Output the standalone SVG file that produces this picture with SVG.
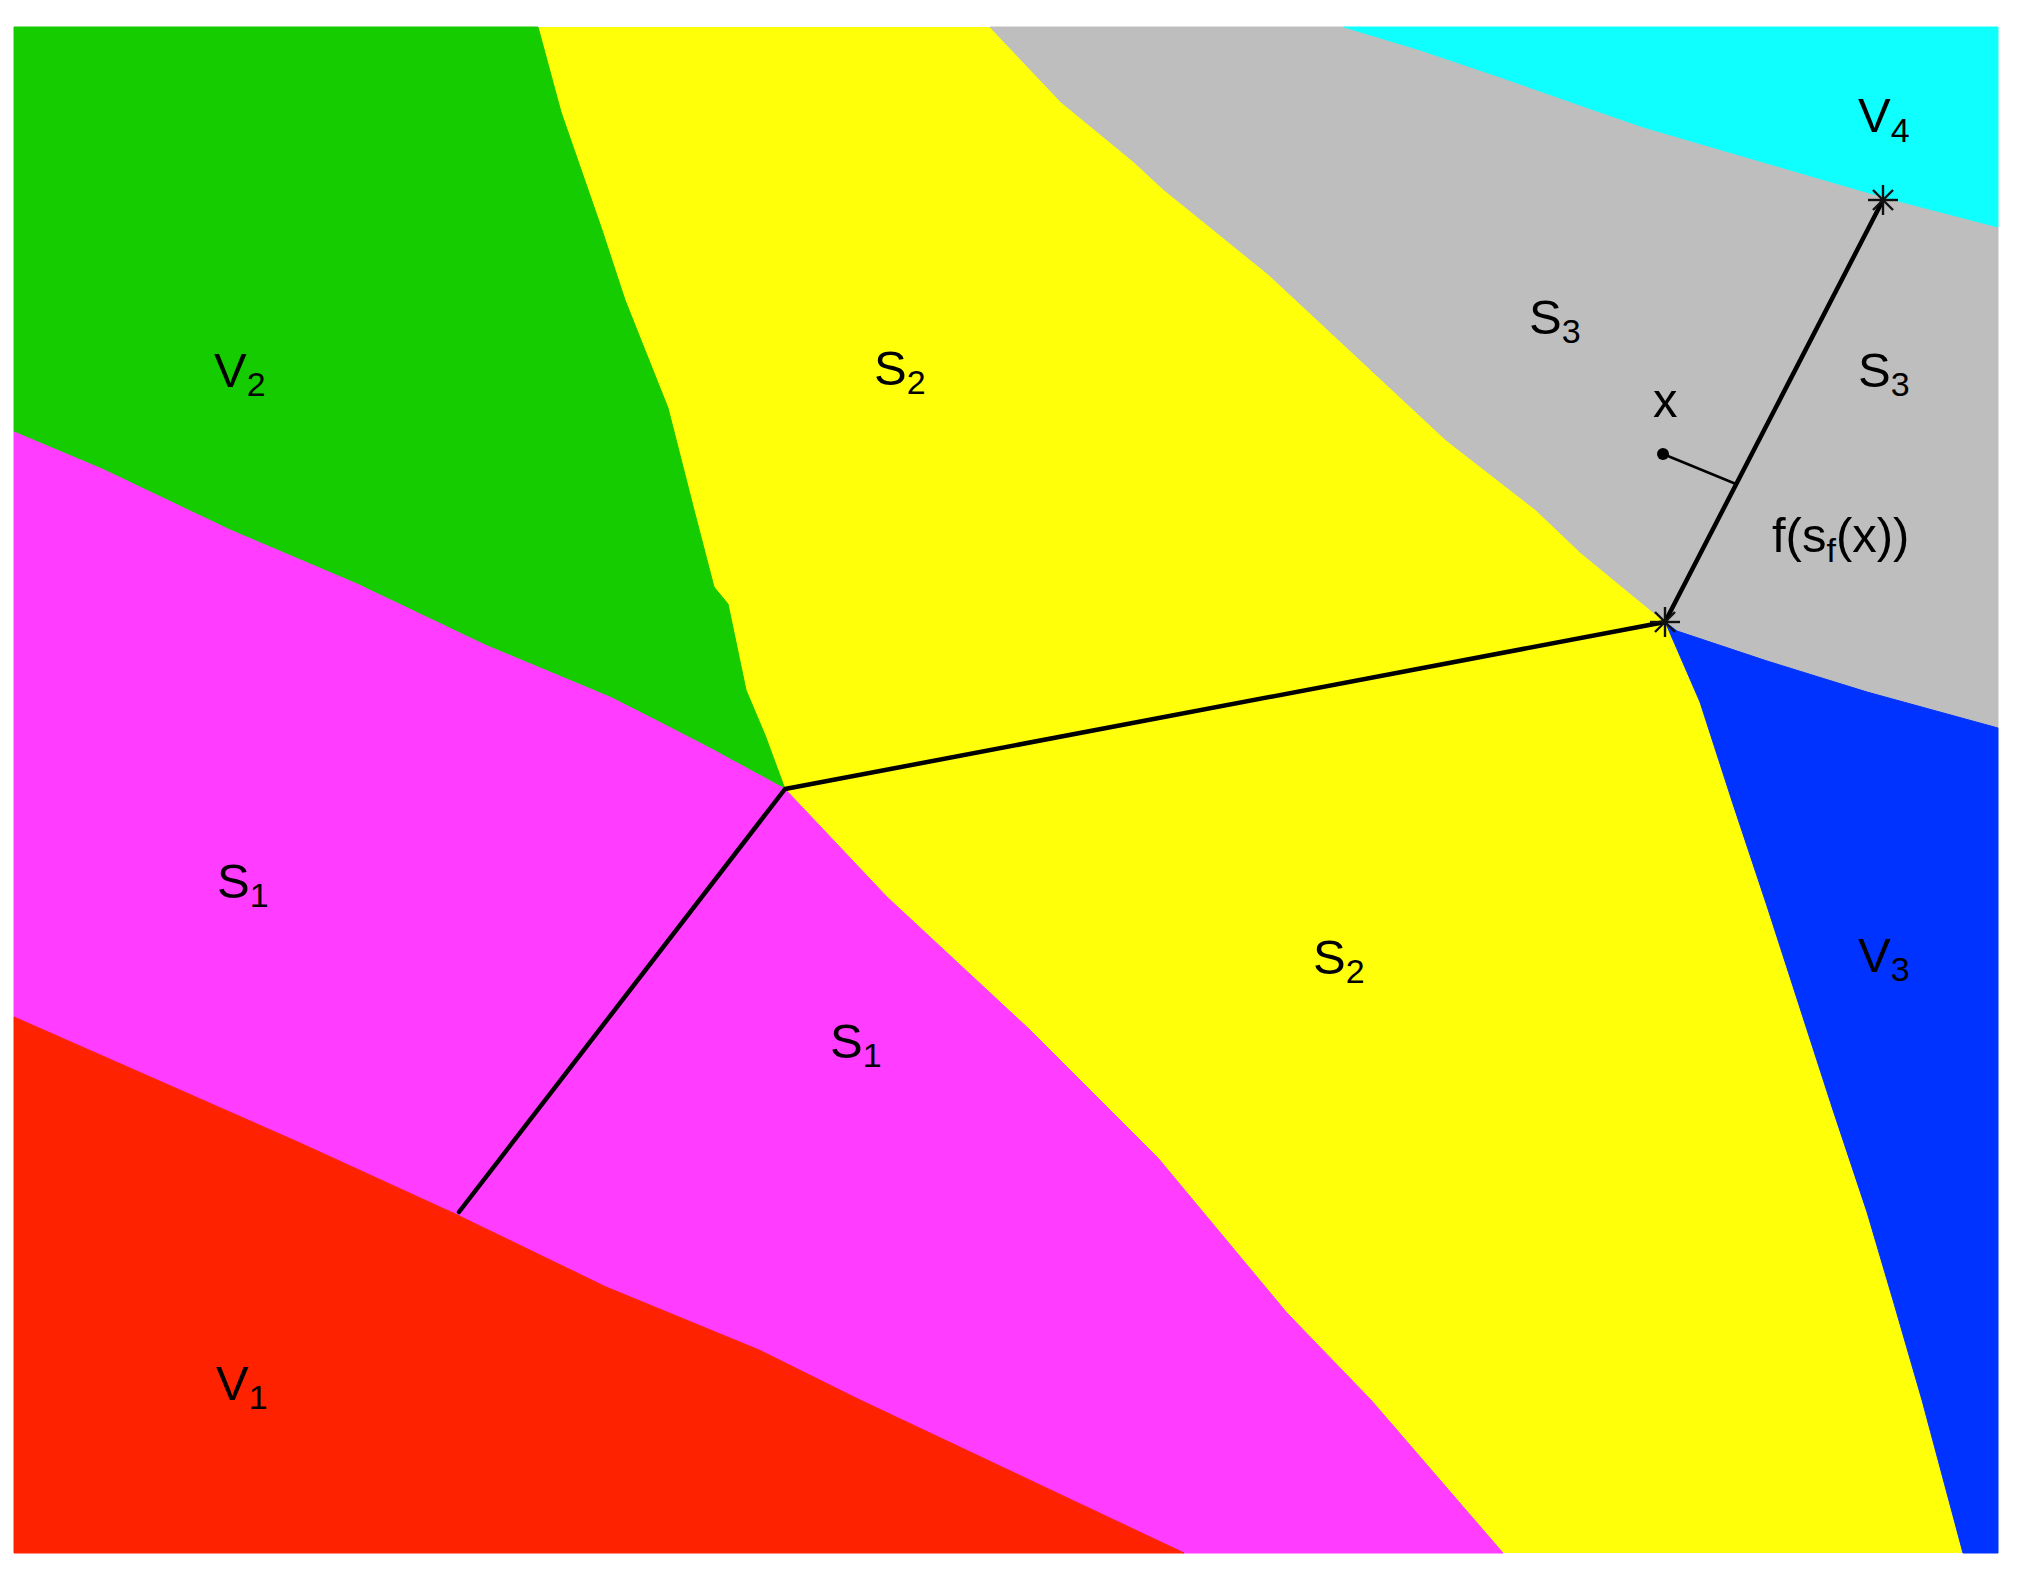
<svg xmlns="http://www.w3.org/2000/svg" width="2018" height="1574" viewBox="0 0 2018 1574">
<style>
.lbl{font-family:"Liberation Sans",Arial,sans-serif;font-size:49px;fill:#000}
.sub{font-size:34px}
.edge{fill:none;stroke:#000;stroke-width:4.5;stroke-linecap:round;stroke-linejoin:round}
.star{stroke:#111;stroke-width:2.4;fill:none}
</style>
<defs>
<g id="star" class="star">
<line x1="-15" y1="0" x2="15" y2="0"/>
<line x1="0" y1="-15" x2="0" y2="15"/>
<line x1="-10" y1="-10" x2="10" y2="10"/>
<line x1="-10" y1="10" x2="10" y2="-10"/>
</g>
</defs>
<rect width="2018" height="1574" fill="#fff"/>
<g id="regions">
<rect id="yellow" x="14" y="27" width="1984" height="1526" fill="#ffff0a"/>
<polygon id="green" fill="#14cc00" stroke="#14cc00" stroke-width="1" points="14,27 538,27 561,112 602,230 625,300 668,408 694,510 714,587 728,604 746,690 765,735 785,789 704,745 612,698 485,645 357,584 230,530 102,469 14,432"/>
<polygon id="magenta" fill="#ff3cff" stroke="#ff3cff" stroke-width="1" points="14,432 102,469 230,530 357,584 485,645 612,698 704,745 785,789 887,897 1030,1030 1158,1158 1287,1313 1371,1400 1503,1553 1184,1553 860,1400 759,1350 606,1287 453,1213 300,1143 14,1017"/>
<polygon id="red" fill="#ff2200" stroke="#ff2200" stroke-width="1" points="14,1017 300,1143 453,1213 606,1287 759,1350 860,1400 1184,1553 14,1553"/>
<polygon id="gray" fill="#bebebe" stroke="#bebebe" stroke-width="1" points="990,27 1344,27 1420,50 1500,77 1594,110 1643,127 1883,197 1998,227 1998,728 1867,692 1767,661 1677,631 1665,622 1580,552 1536,510 1446,440 1312,315 1268,274 1163,189 1134,162 1061,102"/>
<polygon id="cyan" fill="#0fffff" stroke="#0fffff" stroke-width="1" points="1344,27 1998,27 1998,227 1883,197 1643,127 1594,110 1500,77 1420,50"/>
<polygon id="blue" fill="#0033ff" stroke="#0033ff" stroke-width="1" points="1665,622 1677,631 1767,661 1867,692 1998,728 1998,1553 1963,1553 1922,1400 1893,1300 1867,1212 1833,1110 1800,1008 1767,906 1733,804 1700,702 1667,626"/>
</g>
<g id="connectors">
<path class="edge" d="M459,1212 L785,789 L1665,622 L1883,200"/>
<line x1="1663" y1="454" x2="1736" y2="484" stroke="#000" stroke-width="2.5"/>
<circle cx="1663" cy="454" r="6" fill="#000"/>
<use href="#star" x="1665" y="622"/>
<use href="#star" x="1883" y="200"/>
</g>
<g id="labels" class="lbl">
<text id="lV4" x="1858" y="132">V<tspan class="sub" dy="10">4</tspan></text>
<text id="lS3a" x="1529" y="334">S<tspan class="sub" dy="9">3</tspan></text>
<text id="lS3b" x="1858" y="387">S<tspan class="sub" dy="9">3</tspan></text>
<text id="lx" x="1653" y="417">x</text>
<text id="lf" x="1772" y="552">f(s<tspan class="sub" dy="10">f</tspan><tspan dy="-10">(x))</tspan></text>
<text id="lV2" x="214" y="387">V<tspan class="sub" dy="9">2</tspan></text>
<text id="lS2a" x="874" y="385">S<tspan class="sub" dy="9">2</tspan></text>
<text id="lS1a" x="217" y="898">S<tspan class="sub" dy="9">1</tspan></text>
<text id="lS1b" x="830" y="1058">S<tspan class="sub" dy="9">1</tspan></text>
<text id="lS2b" x="1313" y="974">S<tspan class="sub" dy="9">2</tspan></text>
<text id="lV3" x="1858" y="972">V<tspan class="sub" dy="9">3</tspan></text>
<text id="lV1" x="216" y="1400">V<tspan class="sub" dy="9">1</tspan></text>
</g>
</svg>
